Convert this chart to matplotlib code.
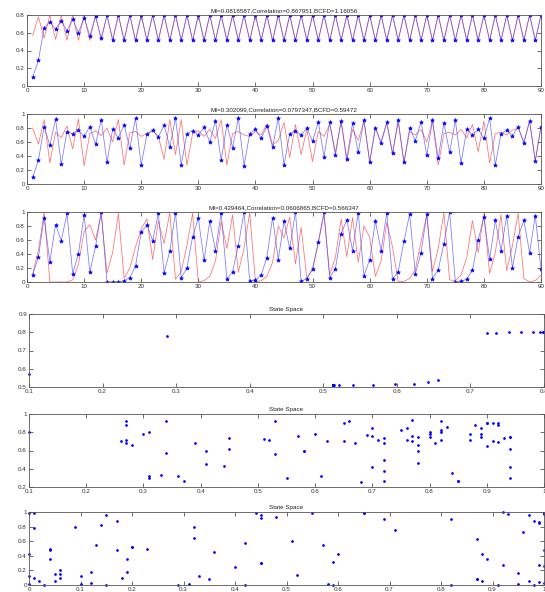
import matplotlib
matplotlib.use("Agg")
import matplotlib.pyplot as plt
import numpy as np
from matplotlib.ticker import FuncFormatter

# time index
steps = np.arange(1, 91)

# series 1: observed (blue) and model (red)
obs1 = [0.10, 0.288, 0.656, 0.722, 0.642, 0.735, 0.623, 0.752, 0.598, 0.769,
        0.568, 0.785, 0.540, 0.795, 0.522, 0.798, 0.515, 0.799, 0.513, 0.7995,
        0.513, 0.7995, 0.513, 0.7995, 0.513, 0.7995, 0.513, 0.7995, 0.513, 0.7995,
        0.513, 0.7995, 0.513, 0.7995, 0.513, 0.7995, 0.513, 0.7995, 0.513, 0.7995,
        0.513, 0.7995, 0.513, 0.7995, 0.513, 0.7995, 0.513, 0.7995, 0.513, 0.7995,
        0.513, 0.7995, 0.513, 0.7995, 0.513, 0.7995, 0.513, 0.7995, 0.513, 0.7995,
        0.513, 0.7995, 0.513, 0.7995, 0.513, 0.7995, 0.513, 0.7995, 0.513, 0.7995,
        0.513, 0.7995, 0.513, 0.7995, 0.513, 0.7995, 0.513, 0.7995, 0.513, 0.7995,
        0.513, 0.7995, 0.513, 0.7995, 0.513, 0.7995, 0.513, 0.7995, 0.513, 0.7995]
mod1 = [0.57, 0.78, 0.54, 0.795, 0.525, 0.798, 0.516, 0.799, 0.514, 0.7995,
        0.513, 0.7995, 0.513, 0.7995, 0.513, 0.7995, 0.513, 0.7995, 0.513, 0.7995,
        0.513, 0.7995, 0.513, 0.7995, 0.513, 0.7995, 0.513, 0.7995, 0.513, 0.7995,
        0.513, 0.7995, 0.513, 0.7995, 0.513, 0.7995, 0.513, 0.7995, 0.513, 0.7995,
        0.513, 0.7995, 0.513, 0.7995, 0.513, 0.7995, 0.513, 0.7995, 0.513, 0.7995,
        0.513, 0.7995, 0.513, 0.7995, 0.513, 0.7995, 0.513, 0.7995, 0.513, 0.7995,
        0.513, 0.7995, 0.513, 0.7995, 0.513, 0.7995, 0.513, 0.7995, 0.513, 0.7995,
        0.513, 0.7995, 0.513, 0.7995, 0.513, 0.7995, 0.513, 0.7995, 0.513, 0.7995,
        0.513, 0.7995, 0.513, 0.7995, 0.513, 0.7995, 0.513, 0.7995, 0.513, 0.7995]

# series 2
obs2 = [0.10, 0.34, 0.82, 0.55, 0.93, 0.28, 0.75, 0.72, 0.77, 0.68,
        0.82, 0.57, 0.92, 0.31, 0.78, 0.66, 0.85, 0.51, 0.94, 0.27,
        0.71, 0.77, 0.67, 0.84, 0.53, 0.94, 0.27, 0.72, 0.76, 0.70,
        0.81, 0.60, 0.90, 0.34, 0.85, 0.52, 0.94, 0.26, 0.72, 0.78,
        0.65, 0.83, 0.53, 0.94, 0.27, 0.72, 0.76, 0.70, 0.80, 0.61,
        0.89, 0.39, 0.89, 0.41, 0.90, 0.36, 0.87, 0.45, 0.92, 0.31,
        0.80, 0.58, 0.88, 0.44, 0.92, 0.31, 0.80, 0.62, 0.89, 0.41,
        0.91, 0.37, 0.87, 0.45, 0.91, 0.30, 0.78, 0.70, 0.78, 0.65,
        0.94, 0.27, 0.72, 0.77, 0.69, 0.82, 0.58, 0.90, 0.33, 0.82]
mod2 = [0.80, 0.57, 0.92, 0.30, 0.74, 0.66, 0.83, 0.50, 0.93, 0.26,
        0.72, 0.76, 0.69, 0.80, 0.60, 0.92, 0.27, 0.73, 0.75, 0.68,
        0.72, 0.76, 0.68, 0.35, 0.92, 0.42, 0.92, 0.27, 0.72, 0.76,
        0.68, 0.78, 0.65, 0.92, 0.27, 0.72, 0.75, 0.70, 0.68, 0.75,
        0.70, 0.86, 0.56, 0.62, 0.88, 0.38, 0.85, 0.42, 0.78, 0.32,
        0.75, 0.68, 0.85, 0.45, 0.90, 0.32, 0.78, 0.62, 0.90, 0.32,
        0.80, 0.60, 0.88, 0.43, 0.88, 0.30, 0.75, 0.70, 0.78, 0.60,
        0.90, 0.27, 0.72, 0.74, 0.70, 0.78, 0.66, 0.85, 0.46, 0.90,
        0.30, 0.72, 0.74, 0.70, 0.77, 0.80, 0.60, 0.90, 0.33, 0.82]

# series 3
obs3 = [0.10, 0.36, 0.92, 0.29, 0.82, 0.59, 0.98, 0.12, 0.40, 0.96,
        0.14, 0.51, 1.00, 0.00, 0.00, 0.00, 0.02, 0.06, 0.23, 0.71,
        0.82, 0.59, 0.98, 0.13, 0.44, 0.99, 0.06, 0.20, 0.65, 0.91,
        0.31, 0.87, 0.45, 0.99, 0.04, 0.15, 0.52, 1.00, 0.01, 0.03,
        0.10, 0.35, 0.92, 0.32, 0.87, 0.48, 1.00, 0.01, 0.05, 0.19,
        0.57, 1.00, 0.06, 0.19, 0.69, 0.89, 0.45, 0.99, 0.09, 0.32,
        0.87, 0.45, 0.99, 0.04, 0.15, 0.58, 0.97, 0.12, 0.42, 0.97,
        0.05, 0.17, 0.55, 1.00, 0.00, 0.01, 0.04, 0.17, 0.60, 0.93,
        0.33, 0.88, 0.45, 0.95, 0.20, 0.65, 0.88, 0.42, 0.95, 0.18]
mod3 = [0.12, 0.45, 1.00, 0.00, 0.00, 0.00, 0.00, 0.03, 0.25, 0.72,
        0.82, 0.60, 0.98, 0.13, 0.42, 0.98, 0.05, 0.20, 0.50, 0.76,
        0.90, 0.32, 0.87, 0.55, 0.99, 0.04, 0.15, 0.52, 0.98, 0.00,
        0.02, 0.08, 0.30, 0.86, 0.48, 0.96, 0.14, 0.48, 0.99, 0.00,
        0.02, 0.08, 0.28, 0.80, 0.63, 0.93, 0.26, 0.78, 0.05, 0.18,
        0.55, 0.97, 0.10, 0.35, 0.90, 0.36, 0.92, 0.28, 0.80, 0.64,
        0.08, 0.30, 0.85, 0.50, 0.00, 0.01, 0.05, 0.18, 0.58, 0.96,
        0.15, 0.48, 0.99, 0.03, 0.02, 0.10, 0.35, 0.88, 0.42, 0.97,
        0.12, 0.42, 0.96, 0.16, 0.52, 0.98, 0.05, 0.00, 0.02, 0.10]

titles = ["MI=0.0818587,Correlation=0.867951,BCFD=1.16056",
          "MI=0.302099,Correlation=0.0797347,BCFD=0.59472",
          "MI=0.429464,Correlation=0.0606865,BCFD=0.566347"]

plt.rcParams.update({
    "font.family": "Liberation Sans",
    "font.size": 4.5,
    "axes.edgecolor": "#555555",
    "axes.linewidth": 0.6,
    "xtick.color": "#555555",
    "ytick.color": "#555555",
    "xtick.labelcolor": "#333333",
    "ytick.labelcolor": "#333333",
    "xtick.direction": "in",
    "ytick.direction": "in",
    "xtick.major.size": 3,
    "ytick.major.size": 3,
    "xtick.major.width": 0.6,
    "ytick.major.width": 0.6,
    "xtick.major.pad": 1.2,
    "ytick.major.pad": 1.5,
    "xtick.top": True,
    "ytick.right": True,
})

W, H = 545, 592
fig = plt.figure(figsize=(W / 100, H / 100), dpi=100)


def box(left, top, right, bottom):
    return [left / W, 1 - bottom / H, (right - left) / W, (bottom - top) / H]


fmt = FuncFormatter(lambda v, p: "%g" % round(v, 6))

# time series panels
line_boxes = [box(27, 15, 541, 86), box(27, 114, 541, 184), box(27, 212, 541, 282)]
obs_all = [obs1, obs2, obs3]
mod_all = [mod1, mod2, mod3]
ytops = [0.8, 1.0, 1.0]

for i in range(3):
    ax = fig.add_axes(line_boxes[i])
    ax.plot(steps, mod_all[i], color="#ff4040", lw=0.55, alpha=0.75)
    ax.plot(steps, obs_all[i], color="#4040ff", lw=0.55, alpha=0.7)
    ax.plot(steps, obs_all[i], ls="none", marker="*", color="#0000ff",
            markersize=3, markeredgewidth=0.4)
    ax.set_xlim(0, 90)
    ax.set_ylim(0, ytops[i])
    ax.set_xticks(np.arange(0, 91, 10))
    ax.set_yticks(np.arange(0, ytops[i] + 0.01, 0.2))
    ax.xaxis.set_major_formatter(fmt)
    ax.yaxis.set_major_formatter(fmt)
    ax.set_title(titles[i], fontsize=4.5, pad=2, color="#222222")

# state space panels (observed vs model)
ss_boxes = [box(29, 314, 544, 387), box(29, 414, 544, 487), box(29, 512, 544, 585)]
ss_xlim = [(0.1, 0.8), (0.1, 1.0), (0.0, 1.0)]
ss_ylim = [(0.5, 0.9), (0.2, 1.0), (0.0, 1.0)]
ss_yticks = [np.arange(0.5, 0.91, 0.1), np.arange(0.2, 1.01, 0.2), np.arange(0, 1.01, 0.2)]

for i in range(3):
    ax = fig.add_axes(ss_boxes[i])
    ax.plot(obs_all[i], mod_all[i], ls="none", marker=".", color="#0000ff",
            markersize=1.9, clip_on=False)
    ax.set_xlim(*ss_xlim[i])
    ax.set_ylim(*ss_ylim[i])
    ax.set_xticks(np.arange(ss_xlim[i][0], ss_xlim[i][1] + 0.001, 0.1))
    ax.set_yticks(ss_yticks[i])
    ax.xaxis.set_major_formatter(fmt)
    ax.yaxis.set_major_formatter(fmt)
    ax.set_title("State Space", fontsize=4.5, pad=2, color="#222222")

fig.savefig("out.png", dpi=100, facecolor="white")
